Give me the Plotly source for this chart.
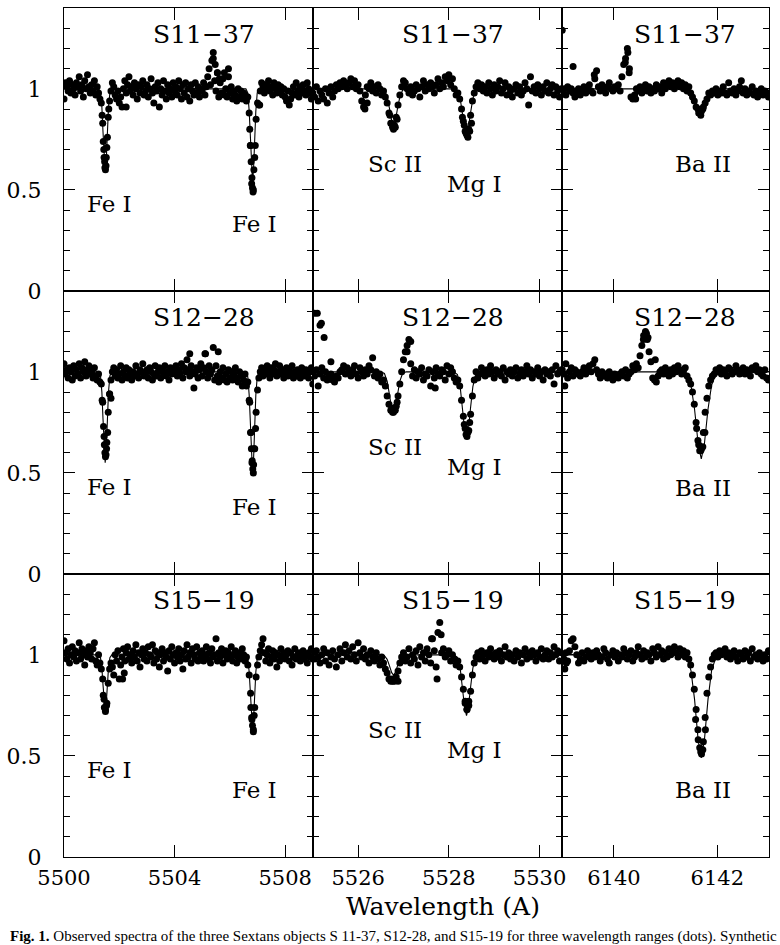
import plotly.graph_objects as go

# ---------------- data ----------------
STARS = ["S11\u221237", "S12\u221228", "S15\u221219"]
COL_RANGES = [(5500.0, 5509.0), (5525.0, 5530.5), (6139.0, 6143.0)]
COL_TICKS = [[5500, 5504, 5508], [5526, 5528, 5530], [6140, 6142]]

# observed spectra: uniform wavelength sampling (start, step) + flux in % of continuum
GRID_START = [5500.0, 5525.0, 6139.0]
GRID_STEP = [0.05, 0.04, 0.035]

S1137_FE = [95, 103, 101, 99, 104, 98, 102, 100, 97, 103,
            101, 106, 99, 102, 96, 104, 100, 107, 101, 98,
            102, 99, 104, 97, 101, 98, 95, 93, 83, 66,
            60, 71, 86, 94, 99, 103, 101, 97, 95, 99,
            93, 96, 91, 100, 104, 98, 102, 106, 99, 101,
            97, 103, 100, 95, 102, 98, 101, 104, 97, 99,
            102, 96, 100, 105, 98, 93, 101, 99, 103, 91,
            100, 97, 104, 99, 95, 102, 98, 100, 96, 103,
            99, 101, 97, 104, 100, 95, 102, 98, 103, 96,
            100, 94, 102, 99, 97, 103, 98, 101, 96, 100,
            99, 103, 97, 101, 106, 110, 102, 114, 118, 104,
            99, 108, 96, 103, 98, 105, 97, 100, 96, 110,
            98, 101, 95, 99, 97, 94, 100, 96, 99, 95,
            98, 97, 94, 96, 88, 72, 56, 50, 66, 85,
            93, 92, 99, 103, 101, 98, 102, 100, 104, 99,
            101, 97, 103, 100, 98, 102, 99, 101, 97, 100,
            96, 94, 99, 92, 95, 98, 101, 97, 103, 99,
            96, 101, 98, 102, 99, 97, 103, 100, 98, 95, 99]
S1228_FE = [104, 99, 101, 97, 102, 100, 96, 103, 98, 101,
            99, 104, 97, 102, 100, 105, 98, 101, 103, 99,
            100, 97, 102, 98, 96, 99, 95, 94, 85, 68,
            58, 65, 80, 89, 96, 100, 102, 98, 101, 97,
            99, 103, 96, 100, 98, 102, 97, 101, 99, 96,
            100, 98, 103, 99, 97, 101, 100, 104, 98, 99,
            101, 97, 102, 100, 96, 99, 103, 98, 100, 102,
            97, 101, 99, 103, 98, 100, 96, 102, 99, 101,
            100, 103, 98, 101, 99, 104, 97, 102, 100, 106,
            101, 98, 103, 100, 92, 99, 102, 97, 101, 104,
            98, 102, 109, 100, 97, 103, 99, 101, 112, 96,
            103, 98, 95, 100, 97, 102, 96, 99, 95, 101,
            97, 100, 96, 99, 102, 97, 95, 100, 98, 93,
            96, 99, 93, 95, 86, 70, 55, 50, 62, 80,
            91, 97, 100, 102, 98, 101, 99, 103, 100, 97,
            102, 99, 101, 104, 98, 100, 103, 99, 101, 97,
            100, 102, 98, 101, 99, 103, 97, 100, 98, 101,
            99, 97, 102, 100, 98, 101, 99, 97, 100, 102, 94]
S1519_FE = [107, 101, 98, 103, 96, 100, 104, 99, 102, 97,
            101, 106, 98, 103, 100, 95, 102, 99, 104, 101,
            98, 103, 106, 97, 95, 100, 96, 93, 88, 78,
            73, 76, 86, 93, 96, 94, 90, 100, 97, 102,
            88, 95, 99, 103, 97, 101, 104, 98, 100, 96,
            102, 99, 105, 97, 101, 94, 100, 103, 98, 101,
            97, 104, 100, 99, 105, 96, 102, 98, 101, 94,
            100, 103, 97, 101, 99, 92, 102, 98, 104, 100,
            96, 101, 99, 103, 97, 100, 93, 102, 98, 105,
            99, 101, 96, 103, 100, 98, 104, 97, 101, 99,
            102, 97, 100, 104, 98, 101, 96, 103, 99, 100,
            108, 97, 101, 99, 103, 96, 100, 102, 98, 101,
            99, 104, 97, 100, 102, 96, 99, 101, 98, 103,
            100, 97, 99, 95, 90, 81, 68, 63, 74, 89,
            95, 99, 102, 105, 108, 101, 97, 100, 103, 96,
            99, 102, 98, 101, 94, 100, 97, 103, 99, 101,
            98, 100, 102, 97, 101, 95, 99, 103, 98, 100,
            101, 97, 99, 102, 98, 100, 96, 101, 99, 103, 98]

S1137_SCMG = [98, 96, 101, 94, 99, 97, 95, 100, 93, 98,
              101, 96, 99, 102, 100, 103, 101, 104, 102, 100,
              103, 105, 101, 104, 100, 102, 99, 94, 91, 97,
              101, 100, 103, 99, 101, 98, 102, 100, 97, 99,
              96, 93, 88, 83, 81, 82, 86, 92, 97, 101,
              104, 103, 100, 98, 101, 97, 99, 102, 100, 96,
              101, 104, 99, 102, 100, 103, 101, 98, 102, 105,
              100, 103, 101, 106, 104, 107, 102, 105, 100, 97,
              98, 95, 90, 84, 79, 77, 80, 87, 94, 98,
              101, 103, 100, 102, 99, 101, 98, 103, 100, 97,
              102, 99, 101, 104, 98, 100, 103, 97, 101, 99,
              96, 100, 102, 98, 101, 97, 99, 103, 100, 92,
              106, 99, 101, 98, 102, 100, 97, 101, 99, 103,
              98, 100, 102, 97, 101, 99, 96, 100]
S1228_SCMG = [100, 98, 101, 93, 99, 102, 97, 100, 96, 98,
              99, 96, 95, 98, 97, 100, 101, 103, 99, 102,
              100, 98, 101, 103, 99, 97, 102, 100, 98, 101,
              99, 103, 101, 107, 98, 100, 97, 99, 95, 96,
              93, 88, 84, 81, 80, 81, 83, 88, 94, 100,
              106, 110, 113, 116, 104, 98, 101, 97, 100, 99,
              102, 96, 99, 98, 101, 93, 100, 97, 102, 99,
              98, 101, 100, 96, 103, 99, 102, 100, 97, 95,
              96, 93, 86, 78, 72, 68, 71, 79, 88, 96,
              100, 97, 99, 102, 100, 98, 101, 99, 103, 100,
              97, 101, 99, 100, 98, 102, 96, 100, 99, 101,
              98, 100, 102, 97, 99, 101, 98, 100, 103, 99,
              101, 97, 100, 99, 102, 98, 100, 96, 101, 99,
              100, 98, 101, 94, 103, 99, 100, 101]
S1519_SCMG = [101, 98, 102, 99, 96, 100, 103, 97, 101, 95,
              99, 102, 98, 94, 100, 103, 97, 101, 105, 99,
              102, 98, 104, 100, 97, 106, 101, 99, 103, 98,
              100, 96, 102, 99, 97, 101, 98, 95, 99, 96,
              93, 91, 88, 87, 88, 87, 89, 92, 96, 99,
              101, 97, 99, 103, 96, 100, 98, 102, 95, 104,
              99, 101, 97, 103, 100, 96, 108, 102, 94, 111,
              116, 101, 103, 99, 100, 102, 97, 100, 98, 95,
              97, 94, 89, 83, 77, 73, 75, 82, 90, 96,
              99, 101, 98, 102, 100, 97, 101, 99, 103, 100,
              98, 101, 99, 102, 97, 100, 104, 99, 101, 98,
              100, 97, 102, 99, 101, 96, 100, 103, 98, 101,
              99, 102, 100, 97, 101, 99, 103, 98, 100, 102,
              98, 101, 99, 104, 100, 102, 97, 101]

S1137_BA = [98, 100, 97, 101, 99, 100, 98, 96, 99, 100,
            97, 99, 101, 98, 100, 102, 99, 98, 105, 109,
            101, 99, 102, 100, 98, 101, 103, 100, 99, 101,
            100, 102, 99, 106, 112, 115, 120, 108, 96, 95,
            97, 100, 99, 101, 98, 100, 102, 99, 101, 98,
            100, 99, 102, 100, 101, 98, 103, 100, 102, 104,
            101, 103, 100, 102, 104, 101, 103, 100, 102, 99,
            101, 98, 96, 94, 91, 90, 89, 89, 91, 93,
            95, 98, 97, 99, 98, 100, 97, 99, 98, 101,
            98, 97, 103, 99, 98, 100, 97, 99, 101, 104,
            98, 100, 97, 99, 98, 101, 97, 99, 96, 98,
            100, 97, 99, 98, 96]
S1228_BA = [101, 99, 104, 97, 100, 102, 98, 101, 100, 99,
            98, 100, 102, 99, 101, 103, 100, 104, 106, 101,
            99, 97, 100, 98, 99, 97, 100, 98, 96, 99,
            98, 97, 99, 100, 98, 101, 97, 99, 100, 103,
            101, 104, 102, 108, 113, 118, 120, 116, 110, 105,
            97, 96, 95, 98, 100, 101, 99, 102, 100, 98,
            101, 99, 102, 100, 103, 101, 99, 100, 102, 98,
            96, 94, 90, 84, 75, 66, 61, 62, 70, 80,
            87, 93, 96, 98, 99, 101, 100, 102, 99, 101,
            100, 98, 102, 101, 99, 100, 103, 101, 99, 100,
            102, 99, 101, 100, 98, 102, 101, 103, 100, 101,
            99, 98, 101, 97, 96]
S1519_BA = [100, 98, 101, 97, 102, 107, 108, 104, 100, 96,
            98, 101, 97, 99, 102, 100, 98, 101, 99, 102,
            100, 97, 99, 103, 101, 98, 96, 100, 102, 99,
            101, 97, 100, 99, 103, 101, 98, 100, 102, 97,
            99, 101, 104, 100, 98, 102, 99, 101, 100, 97,
            103, 101, 99, 104, 100, 102, 98, 101, 99, 103,
            100, 102, 104, 101, 99, 103, 100, 102, 99, 101,
            98, 95, 90, 83, 73, 63, 54, 51, 57, 69,
            81, 89, 94, 98, 100, 101, 99, 102, 100, 101,
            103, 99, 101, 98, 100, 102, 99, 97, 101, 100,
            98, 102, 99, 101, 97, 103, 99, 100, 98, 101,
            99, 97, 100, 98, 102]

# additional observed points (wavelength, normalised flux) in line cores / features
S1137_FE_XW = [5501.38, 5501.42, 5501.44, 5501.47, 5501.48, 5501.52, 5501.53, 5501.57, 5501.62,
               5506.72, 5506.74, 5506.77, 5506.79, 5506.82, 5506.84, 5506.87, 5506.92,
               5505.40, 5505.47, 5505.55, 5505.62, 5505.80, 5505.95, 5502.25, 5507.08]
S1137_FE_XF = [0.87, 0.74, 0.70, 0.64, 0.61, 0.62, 0.66, 0.76, 0.90,
               0.80, 0.72, 0.64, 0.53, 0.51, 0.49, 0.60, 0.72,
               1.15, 1.12, 1.08, 1.05, 1.08, 1.06, 0.91, 0.92]
S1228_FE_XW = [5501.38, 5501.43, 5501.46, 5501.48, 5501.52, 5501.54, 5501.58, 5501.65, 5501.70,
               5506.72, 5506.76, 5506.78, 5506.81, 5506.83, 5506.86, 5506.88, 5506.93,
               5505.12, 5504.55, 5505.58]
S1228_FE_XF = [0.86, 0.73, 0.64, 0.60, 0.59, 0.62, 0.70, 0.89, 0.87,
               0.85, 0.70, 0.62, 0.56, 0.52, 0.54, 0.62, 0.72,
               1.09, 1.09, 1.10]
S1519_FE_XW = [5501.42, 5501.46, 5501.50, 5501.54, 5506.76, 5506.79, 5506.82, 5506.85, 5506.88,
               5502.12, 5502.18]
S1519_FE_XF = [0.80, 0.74, 0.72, 0.75, 0.74, 0.69, 0.65, 0.62, 0.70, 0.88, 0.91]

S1137_SCMG_XW = [5526.70, 5526.74, 5526.78, 5526.82, 5526.86,
                 5528.30, 5528.34, 5528.38, 5528.42, 5528.46, 5528.50, 5526.15, 5526.20]
S1137_SCMG_XF = [0.87, 0.83, 0.80, 0.81, 0.85, 0.86, 0.82, 0.78, 0.76, 0.79, 0.83, 0.90, 0.93]
S1228_SCMG_XW = [5525.04, 5525.10, 5525.16, 5525.19, 5525.25, 5525.40,
                 5526.74, 5526.78, 5526.82, 5526.86, 5527.08, 5527.16,
                 5528.34, 5528.38, 5528.42, 5528.46, 5527.70]
S1228_SCMG_XF = [1.29, 1.29, 1.23, 1.24, 1.17, 1.05,
                 0.82, 0.80, 0.81, 0.85, 1.10, 1.15,
                 0.74, 0.69, 0.70, 0.75, 0.92]
S1519_SCMG_XW = [5526.70, 5526.76, 5526.82, 5526.88, 5527.62, 5527.83, 5527.74,
                 5528.36, 5528.40, 5528.44]
S1519_SCMG_XF = [0.88, 0.87, 0.88, 0.87, 1.08, 1.10, 0.88, 0.76, 0.73, 0.77]

S1137_BA_XW = [6139.00, 6139.21, 6139.62, 6140.22, 6140.27, 6140.30, 6140.42,
               6141.64, 6141.68, 6141.72]
S1137_BA_XF = [1.29, 1.11, 1.07, 1.13, 1.18, 1.10, 0.95, 0.88, 0.87, 0.90]
S1228_BA_XW = [6140.57, 6140.63, 6140.66, 6140.80,
               6141.60, 6141.64, 6141.68, 6141.72, 6141.76, 6139.05]
S1228_BA_XF = [1.16, 1.19, 1.17, 1.06, 0.72, 0.64, 0.61, 0.63, 0.70, 0.93]
S1519_BA_XW = [6139.05, 6139.08, 6141.58, 6141.63, 6141.68, 6141.72, 6141.77]
S1519_BA_XF = [0.93, 0.96, 0.68, 0.58, 0.52, 0.53, 0.63]

# synthetic spectra
SYN_WAVE_FE = [5500.0, 5501.25, 5501.32, 5501.37, 5501.41, 5501.45, 5501.49, 5501.53, 5501.57,
               5501.61, 5501.66, 5501.73, 5506.58, 5506.65, 5506.70, 5506.74, 5506.78, 5506.82,
               5506.86, 5506.90, 5506.94, 5506.99, 5507.06, 5509.0]
SYN_WAVE_SCMG = [5525.0, 5526.50, 5526.58, 5526.64, 5526.69, 5526.74, 5526.78, 5526.82, 5526.87,
                 5526.92, 5526.98, 5527.06, 5528.11, 5528.19, 5528.25, 5528.30, 5528.35, 5528.39,
                 5528.43, 5528.48, 5528.53, 5528.59, 5528.67, 5530.5]
SYN_WAVE_BA = [6139.0, 6141.30, 6141.41, 6141.49, 6141.56, 6141.63, 6141.69, 6141.75, 6141.82,
               6141.89, 6141.97, 6142.08, 6143.0]

SYN_S1137_FE = [1.0, 1.0, 0.98, 0.91, 0.79, 0.65, 0.59, 0.65, 0.79, 0.91, 0.98, 1.0,
                1.0, 0.98, 0.89, 0.76, 0.61, 0.54, 0.61, 0.76, 0.89, 0.98, 1.0, 1.0]
SYN_S1228_FE = [1.0, 1.0, 0.98, 0.90, 0.77, 0.62, 0.55, 0.62, 0.77, 0.90, 0.98, 1.0,
                1.0, 0.975, 0.885, 0.74, 0.575, 0.50, 0.575, 0.74, 0.885, 0.975, 1.0, 1.0]
SYN_S1519_FE = [1.0, 1.0, 0.986, 0.936, 0.854, 0.762, 0.72, 0.762, 0.854, 0.936, 0.986, 1.0,
                1.0, 0.98, 0.915, 0.81, 0.685, 0.63, 0.685, 0.81, 0.915, 0.98, 1.0, 1.0]
SYN_S1137_SCMG = [1.0, 1.0, 0.993, 0.96, 0.905, 0.842, 0.82, 0.842, 0.905, 0.96, 0.993, 1.0,
                  1.0, 0.991, 0.952, 0.883, 0.806, 0.78, 0.806, 0.883, 0.952, 0.991, 1.0, 1.0]
SYN_S1228_SCMG = [1.0, 1.0, 0.992, 0.954, 0.889, 0.815, 0.79, 0.815, 0.889, 0.954, 0.992, 1.0,
                  1.0, 0.987, 0.927, 0.825, 0.71, 0.67, 0.71, 0.825, 0.927, 0.987, 1.0, 1.0]
SYN_S1519_SCMG = [1.0, 1.0, 0.996, 0.978, 0.947, 0.912, 0.90, 0.912, 0.947, 0.978, 0.996, 1.0,
                  1.0, 0.988, 0.934, 0.841, 0.736, 0.70, 0.736, 0.841, 0.934, 0.988, 1.0, 1.0]
SYN_S1137_BA = [1.0, 1.0, 0.996, 0.98, 0.944, 0.892, 0.87, 0.892, 0.944, 0.98, 0.996, 1.0, 1.0]
SYN_S1228_BA = [1.0, 1.0, 0.987, 0.935, 0.815, 0.643, 0.57, 0.643, 0.815, 0.935, 0.987, 1.0, 1.0]
SYN_S1519_BA = [1.0, 1.0, 0.985, 0.923, 0.78, 0.577, 0.49, 0.577, 0.78, 0.923, 0.985, 1.0, 1.0]

# line identifications: (text, wavelength, flux level)
LABELS_FE = [("Fe I", 5501.65, 0.43), ("Fe I", 5506.90, 0.33)]
LABELS_SCMG = [("Sc II", 5526.82, 0.63), ("Mg I", 5528.57, 0.53)]
LABELS_BA = [[("Ba II", 6141.72, 0.63)], [("Ba II", 6141.72, 0.425)], [("Ba II", 6141.72, 0.33)]]
TITLE_X = [5505.07, 5528.09, 6141.37]
TITLE_Y = 1.27

FLUX = [[S1137_FE, S1137_SCMG, S1137_BA],
        [S1228_FE, S1228_SCMG, S1228_BA],
        [S1519_FE, S1519_SCMG, S1519_BA]]
EXTRA_W = [[S1137_FE_XW, S1137_SCMG_XW, S1137_BA_XW],
           [S1228_FE_XW, S1228_SCMG_XW, S1228_BA_XW],
           [S1519_FE_XW, S1519_SCMG_XW, S1519_BA_XW]]
EXTRA_F = [[S1137_FE_XF, S1137_SCMG_XF, S1137_BA_XF],
           [S1228_FE_XF, S1228_SCMG_XF, S1228_BA_XF],
           [S1519_FE_XF, S1519_SCMG_XF, S1519_BA_XF]]
SYN_WAVE = [SYN_WAVE_FE, SYN_WAVE_SCMG, SYN_WAVE_BA]
SYN_FLUX = [[SYN_S1137_FE, SYN_S1137_SCMG, SYN_S1137_BA],
            [SYN_S1228_FE, SYN_S1228_SCMG, SYN_S1228_BA],
            [SYN_S1519_FE, SYN_S1519_SCMG, SYN_S1519_BA]]

# ---------------- figure ----------------
W, H = 780, 945
ML, MR, MT, MB = 55, 8, 7, 88
PW = W - ML - MR
PH = H - MT - MB
col_px = [(0, 253), (253, 506.7), (506.7, PW)]
COL_DOM = [[a / PW, b / PW] for a, b in col_px]
ROW_DOM = [[2 / 3, 1.0], [1 / 3, 2 / 3], [0.0, 1 / 3]]

SERIF = "DejaVu Serif"
fig = go.Figure()
layout = dict(
    width=W, height=H,
    margin=dict(l=ML, r=MR, t=MT, b=MB, pad=0),
    paper_bgcolor="white", plot_bgcolor="white",
    showlegend=False,
    font=dict(family=SERIF, color="black", size=21),
)
annotations = []

for r in range(3):
    for c in range(3):
        n = r * 3 + c + 1
        xs = "x" if n == 1 else f"x{n}"
        ys = "y" if n == 1 else f"y{n}"
        flux = FLUX[r][c]
        wave = [GRID_START[c] + GRID_STEP[c] * i for i in range(len(flux))]
        fig.add_trace(go.Scatter(
            x=wave + EXTRA_W[r][c],
            y=[f / 100.0 for f in flux] + EXTRA_F[r][c],
            mode="markers", xaxis=xs, yaxis=ys, cliponaxis=True,
            marker=dict(size=7, color="black", line=dict(width=0)),
            hoverinfo="skip"))
        fig.add_trace(go.Scatter(
            x=SYN_WAVE[c], y=SYN_FLUX[r][c], mode="lines", xaxis=xs, yaxis=ys,
            line=dict(color="black", width=1.1), hoverinfo="skip"))

        xk = "xaxis" if n == 1 else f"xaxis{n}"
        yk = "yaxis" if n == 1 else f"yaxis{n}"
        layout[xk] = dict(
            domain=COL_DOM[c], anchor=ys, range=list(COL_RANGES[c]),
            tickmode="array", tickvals=COL_TICKS[c], ticktext=[str(t) for t in COL_TICKS[c]],
            ticks="inside", ticklen=12, tickwidth=1.1, tickcolor="black",
            showline=True, linecolor="black", linewidth=1.1, mirror="allticks",
            showgrid=False, zeroline=False,
            showticklabels=(r == 2), ticklabelstandoff=2,
            tickfont=dict(family=SERIF, size=21, color="black"),
        )
        layout[yk] = dict(
            domain=ROW_DOM[r], anchor=xs, range=[0, 1.4],
            tick0=0, dtick=0.5,
            ticks="inside", ticklen=11, tickwidth=1.1, tickcolor="black",
            minor=dict(dtick=0.1, tick0=0, ticks="inside", ticklen=6, tickwidth=1.0,
                       tickcolor="black", showgrid=False),
            showline=True, linecolor="black", linewidth=1.1, mirror="allticks",
            showgrid=False, zeroline=False,
            showticklabels=(c == 0), ticklabelstandoff=17,
            tickfont=dict(family=SERIF, size=22, color="black"),
        )
        annotations.append(dict(
            text=STARS[r], x=TITLE_X[c], y=TITLE_Y, xref=xs, yref=ys,
            showarrow=False, xanchor="center", yanchor="middle",
            font=dict(family=SERIF, size=25, color="black")))
        labs = LABELS_FE if c == 0 else (LABELS_SCMG if c == 1 else LABELS_BA[r])
        for txt, lx, ly in labs:
            annotations.append(dict(
                text=txt, x=lx, y=ly, xref=xs, yref=ys, showarrow=False,
                xanchor="center", yanchor="middle",
                font=dict(family=SERIF, size=23, color="black")))

annotations.append(dict(
    text="Wavelength (A)", x=(440 - ML) / PW, y=-(907 - (MT + PH)) / PH,
    xref="paper", yref="paper", showarrow=False, xanchor="center", yanchor="middle",
    font=dict(family=SERIF, size=25, color="black")))
annotations.append(dict(
    text="<b>Fig. 1.</b> Observed spectra of the three Sextans objects S 11-37, S12-28, "
         "and S15-19 for three wavelength ranges (dots). Synthetic",
    x=0.5 * (W - 2 * ML) / PW, y=-(937 - (MT + PH)) / PH,
    xref="paper", yref="paper", showarrow=False, xanchor="center", yanchor="middle",
    font=dict(family="Liberation Serif", size=15, color="black")))

layout["annotations"] = annotations
fig.update_layout(**layout)
fig.write_html("out.html")
